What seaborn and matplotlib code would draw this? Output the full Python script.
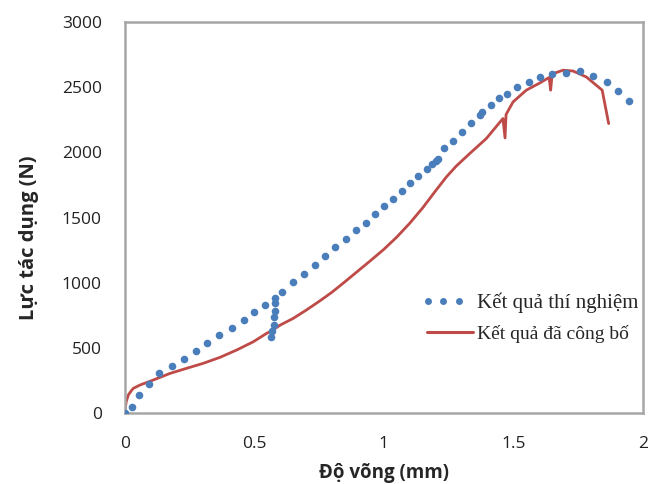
import matplotlib
matplotlib.use("Agg")
import matplotlib.pyplot as plt
import seaborn as sns
import pandas as pd
from matplotlib.lines import Line2D
from matplotlib.legend_handler import HandlerBase

# Experimental data (blue dots)
exp_x = [0.0, 0.029, 0.055, 0.094, 0.132, 0.181, 0.227, 0.274, 0.319, 0.364, 0.415, 0.459,
         0.501, 0.541, 0.565, 0.567, 0.575, 0.576, 0.581, 0.582, 0.581, 0.609, 0.648,
         0.692, 0.734, 0.772, 0.811, 0.853, 0.893, 0.931, 0.965, 1.001, 1.036, 1.069,
         1.100, 1.132, 1.165, 1.187, 1.200, 1.211, 1.233, 1.267, 1.302, 1.336, 1.370,
         1.379, 1.413, 1.445, 1.476, 1.516, 1.559, 1.603, 1.650, 1.702, 1.756, 1.807,
         1.860, 1.905, 1.946]
exp_y = [0, 48, 140, 222, 306, 362, 418, 475, 541, 600, 651, 714,
         773, 829, 582, 632, 676, 735, 783, 847, 885, 931, 1008,
         1065, 1134, 1202, 1271, 1335, 1401, 1462, 1524, 1585, 1646, 1705,
         1763, 1819, 1871, 1907, 1932, 1952, 2032, 2090, 2159, 2223, 2282,
         2307, 2366, 2417, 2450, 2501, 2542, 2577, 2603, 2608, 2623, 2588,
         2539, 2468, 2393]

# Published results (red line)
pub_x = [0.0, 0.003, 0.006, 0.014, 0.025, 0.033, 0.059, 0.110, 0.175, 0.239, 0.303, 0.368,
         0.432, 0.496, 0.548, 0.567, 0.600, 0.650, 0.700, 0.750, 0.800, 0.850, 0.900,
         0.950, 1.000, 1.050, 1.100, 1.150, 1.200, 1.242, 1.280, 1.332, 1.396, 1.460,
         1.468, 1.472, 1.499, 1.550, 1.602, 1.638, 1.644, 1.650, 1.692, 1.730, 1.782,
         1.843, 1.868]
pub_y = [0, 50, 90, 140, 172, 191, 217, 255, 306, 345, 383, 429,
         485, 548, 613, 632, 676, 727, 790, 857, 928, 1008, 1090,
         1172, 1256, 1350, 1456, 1574, 1705, 1812, 1895, 1991, 2106, 2259,
         2110, 2290, 2386, 2476, 2531, 2573, 2476, 2600, 2629, 2623, 2577,
         2476, 2220]

x_ticks = [0, 0.5, 1, 1.5, 2]
x_tick_labels = ["0", "0.5", "1", "1.5", "2"]
y_ticks = [0, 500, 1000, 1500, 2000, 2500, 3000]
label_exp = "Kết quả thí nghiệm"
label_pub = "Kết quả đã công bố"
x_label = "Độ võng (mm)"
y_label = "Lực tác dụng (N)"

sns.set_style("white")
sans = ["Open Sans", "DejaVu Sans"]
serif = ["Liberation Serif", "DejaVu Serif"]
plt.rcParams["font.family"] = sans

blue = "#4A7EBB"
red = "#BE4B48"
grey = "#A6A6A6"

fig = plt.figure(figsize=(6.58, 4.84), dpi=100)
ax = fig.add_axes([0.1895, 0.146, 0.7875, 0.809])

df_exp = pd.DataFrame({"x": exp_x, "y": exp_y})
df_pub = pd.DataFrame({"x": pub_x, "y": pub_y})

sns.lineplot(data=df_pub, x="x", y="y", sort=False, estimator=None, color=red,
             linewidth=2.0, ax=ax, zorder=2)
sns.scatterplot(data=df_exp, x="x", y="y", color=blue, s=30, linewidth=0, ax=ax, zorder=3)

ax.set_xlim(0, 2)
ax.set_ylim(0, 3000)
ax.set_xticks(x_ticks)
ax.set_xticklabels(x_tick_labels)
ax.set_yticks(y_ticks)

for s in ax.spines.values():
    s.set_color(grey)
    s.set_linewidth(1.8)

ax.tick_params(axis="both", which="major", direction="out", length=4.5, width=1.2,
               color=grey, labelsize=12.5, labelcolor="#222222")
ax.tick_params(axis="y", pad=12)
ax.tick_params(axis="x", pad=12)
for lbl in ax.get_xticklabels() + ax.get_yticklabels():
    lbl.set_family(sans)

ax.set_xlabel(x_label, fontsize=13.5, fontweight="bold", family=sans, labelpad=8)
ax.set_ylabel(y_label, fontsize=14.5, fontweight="bold", family=sans)
ax.yaxis.set_label_coords(-0.165, 0.448)


class DotsHandler(HandlerBase):
    def create_artists(self, legend, orig_handle, xdescent, ydescent, width, height,
                       fontsize, trans):
        xs = [-xdescent + width * f for f in (0.02, 0.35, 0.68)]
        y = -ydescent + height / 2
        ln = Line2D(xs, [y] * 3, linestyle="none", marker="o", markersize=5,
                    markeredgewidth=0, color=blue)
        ln.set_transform(trans)
        return [ln]


dots_handle = Line2D([], [], linestyle="none", marker="o", markersize=5, color=blue)
line_handle = Line2D([], [], color=red, linewidth=2.2)
leg = ax.legend([dots_handle, line_handle], [label_exp, label_pub], loc="upper left",
                bbox_to_anchor=(0.564, 0.335), frameon=False,
                handler_map={dots_handle: DotsHandler()},
                handlelength=2.2, handletextpad=0.2, labelspacing=0.55, borderpad=0,
                prop={"family": serif, "size": 15})
leg.get_texts()[1].set_fontsize(14)

fig.savefig("out.png", dpi=100)
